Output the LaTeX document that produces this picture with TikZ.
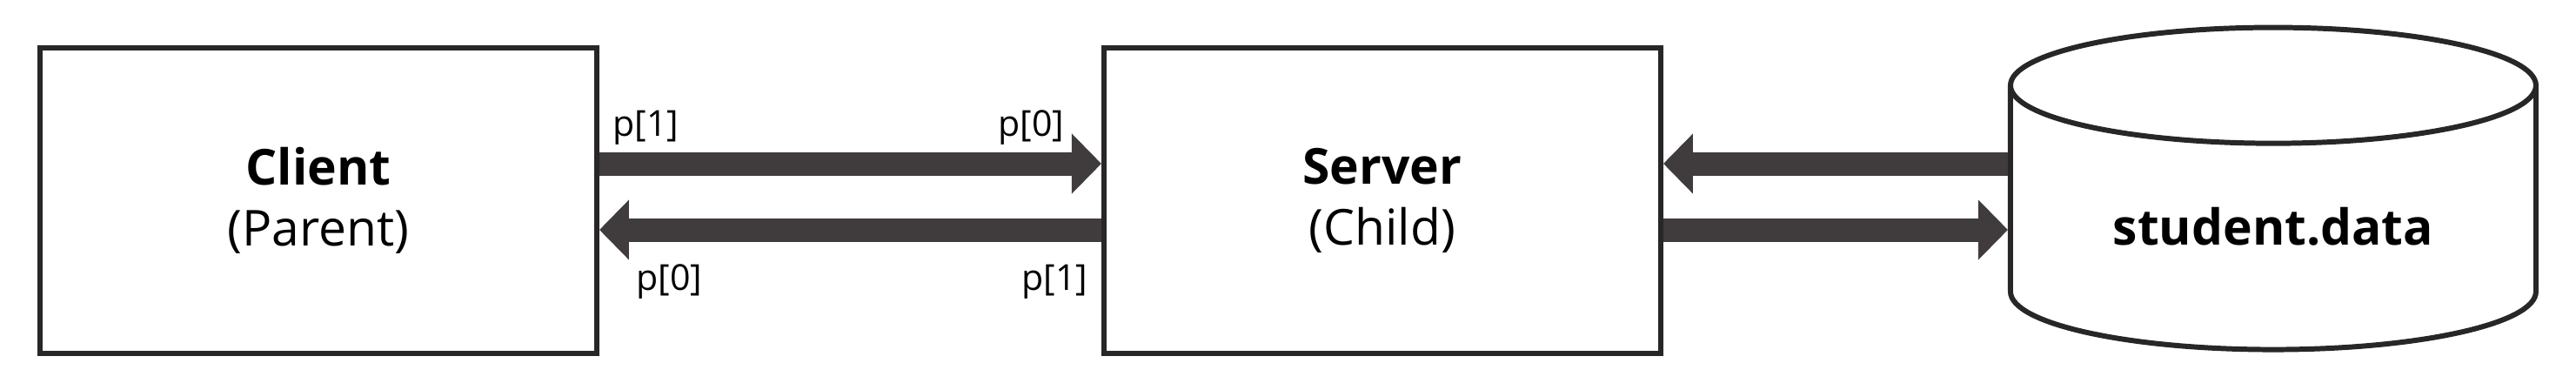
\documentclass[tikz,border=0pt]{standalone}
\usepackage{fontspec}
\setmainfont{Open Sans}
\usetikzlibrary{arrows.meta, positioning, shapes.geometric}
\definecolor{edgegray}{RGB}{40,38,39}
\definecolor{pipegray}{RGB}{64,60,62}

\begin{document}
\begin{tikzpicture}[
    node distance=5.77cm,
    box/.style={rectangle, draw=edgegray, line width=1.7pt, fill=white, align=center, minimum width=6.4cm, minimum height=3.51cm, font=\fontsize{16.2}{20}\selectfont},
    store/.style={cylinder, shape border rotate=90, aspect=0.34, draw=edgegray, line width=1.7pt, fill=white, minimum width=6.04cm, minimum height=3.7cm, font=\fontsize{16.2}{20}\selectfont\bfseries},
    pipe/.style={-{Triangle[length=3.4mm, width=6.7mm]}, draw=pipegray, line width=2.7mm},
    tag/.style={inner sep=0pt, font=\fontsize{11.7}{14}\selectfont}
]
\useasboundingbox (0,0) rectangle (29.61,4.47);

\node[box, anchor=west] (client) at (0.43,2.165) {\textbf{Client}\\(Parent)};
\node[box, right=of client] (server) {\textbf{Server}\\(Child)};
\node[store, right=3.96cm of server, yshift=-0.3cm] (db) {student.data};

\draw[pipe] ([yshift=0.425cm]client.east) -- ([yshift=0.425cm]server.west);
\draw[pipe] ([yshift=-0.335cm]server.west) -- ([yshift=-0.335cm]client.east);
\draw[pipe] ([yshift=0.425cm]server.east -| db.west) -- ([yshift=0.425cm]server.east);
\draw[pipe] ([yshift=-0.335cm]server.east) -- ([yshift=-0.335cm]server.east -| db.west);

\node[tag, anchor=base west] (wr1) at ([shift={(0.15,0.735)}]client.east) {p[1]};
\node[tag, anchor=base east] (rd0) at ([shift={(-0.42,0.735)}]server.west) {p[0]};
\node[tag, anchor=base west] (rd0b) at ([shift={(0.42,-1.025)}]client.east) {p[0]};
\node[tag, anchor=base east] (wr1b) at ([shift={(-0.15,-1.025)}]server.west) {p[1]};
\end{tikzpicture}
\end{document}
